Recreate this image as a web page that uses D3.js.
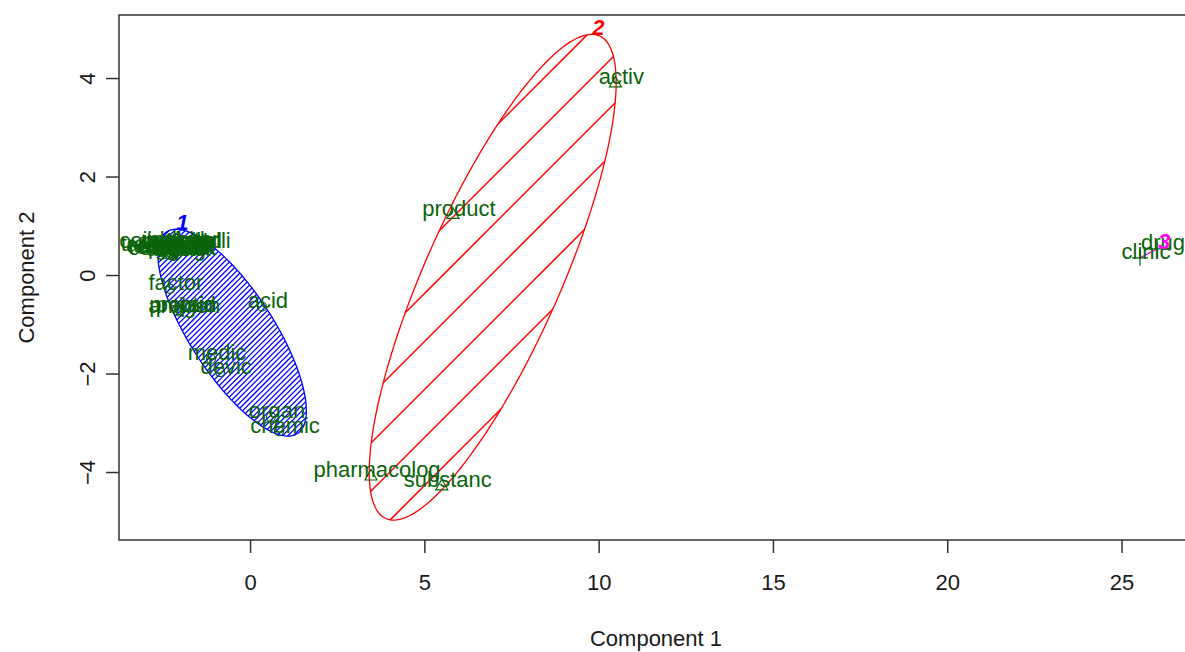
<!DOCTYPE html>
<html>
<head>
<meta charset="utf-8">
<script src="https://cdn.jsdelivr.net/npm/d3@7"></script>
<style>
  body { margin: 0; background: #fff; }
  svg text { font-family: "Liberation Sans", Arial, sans-serif; }
</style>
</head>
<body>
<div id="chart"></div>
<script>
// term positions on the two principal components, with cluster membership
const terms = [
  "treatment", "compound", "method", "composit", "effect", "includ", "patient", "diseas",
  "cell", "agent", "therapi", "receptor", "inhibitor", "dosag", "administr", "generalli",
  "form", "gene", "factor", "protein", "antigen", "peptid", "acid", "medic", "devic",
  "organ", "chemic",
  "activ", "product", "pharmacolog", "substanc",
  "clinic", "drug"
];
const comp1 = [
  -2.55, -2.45, -2.35, -2.40, -2.20, -2.30, -2.15, -2.25,
  -2.05, -2.10, -2.35, -2.50, -2.15, -2.30, -2.45, -1.92,
  -2.00, -2.20, -2.30, -2.10, -2.06, -2.02, 0.34, -1.12, -0.86,
  0.60, 0.83,
  10.48, 5.82, 3.47, 5.50,
  25.53, 26.02
];
const comp2 = [
  0.52, 0.58, 0.47, 0.43, 0.55, 0.60, 0.45, 0.50,
  0.57, 0.42, 0.55, 0.46, 0.59, 0.41, 0.50, 0.58,
  0.49, 0.44, -0.28, -0.72, -0.74, -0.71, -0.64, -1.70, -1.97,
  -2.88, -3.17,
  3.90, 1.23, -4.08, -4.28,
  0.35, 0.53
];
const cluster = [
  1, 1, 1, 1, 1, 1, 1, 1,
  1, 1, 1, 1, 1, 1, 1, 1,
  1, 1, 1, 1, 1, 1, 1, 1, 1,
  1, 1,
  2, 2, 2, 2,
  3, 3
];

// spanning ellipses of each cluster (centre, semi-axes, rotation in degrees)
const clusterIds = [1, 2, 3];
const ellipseCx = [-0.515, 6.96, 25.775];
const ellipseCy = [-1.17, -0.045, 0.44];
const ellipseA = [2.80, 5.80, 0.261];
const ellipseB = [1.05, 1.80, 0];
const ellipseAngle = [-44.5, 56.4, 20.2];

const xTicks = [0, 5, 10, 15, 20, 25];
const yTicks = [-4, -2, 0, 2, 4];
const xTitle = "Component 1";
const yTitle = "Component 2";

const width = 1185, height = 652;
const plot = { left: 119, right: 1193, top: 15, bottom: 540 };
const fontSize = 22;
const textGreen = "#0b640b";

const x = d3.scaleLinear().domain([-3.76, 27.05]).range([plot.left, plot.right]);
const y = d3.scaleLinear().domain([-5.38, 5.28]).range([plot.bottom, plot.top]);

const clusColor = d3.scaleOrdinal().domain(clusterIds).range(["#0000ff", "#ff0000", "#ff00ff"]);
const hatchStep = d3.scaleOrdinal().domain(clusterIds).range([5.4, 48, 0]);
const hatchPhase = d3.scaleOrdinal().domain(clusterIds).range([0, 46, 0]);
const hatchWidth = d3.scaleOrdinal().domain(clusterIds).range([1.3, 1.5, 0]);

const svg = d3.select("#chart").append("svg")
  .attr("width", width)
  .attr("height", height);

const defs = svg.append("defs");
defs.append("clipPath").attr("id", "plotClip")
  .append("rect")
  .attr("x", plot.left).attr("y", plot.top)
  .attr("width", plot.right - plot.left).attr("height", plot.bottom - plot.top);

const g = svg.append("g").attr("clip-path", "url(#plotClip)");

function ellipsePoints(i) {
  const th = ellipseAngle[i] * Math.PI / 180;
  return d3.range(0, 361, 2).map(deg => {
    const t = deg * Math.PI / 180;
    const ex = ellipseCx[i] + ellipseA[i] * Math.cos(t) * Math.cos(th) - ellipseB[i] * Math.sin(t) * Math.sin(th);
    const ey = ellipseCy[i] + ellipseA[i] * Math.cos(t) * Math.sin(th) + ellipseB[i] * Math.sin(t) * Math.cos(th);
    return [x(ex), y(ey)];
  });
}

// ellipses with 45 degree shading
clusterIds.forEach((id, i) => {
  const pts = ellipsePoints(i);
  const col = clusColor(id);
  const step = hatchStep(id);
  if (step > 0) {
    defs.append("clipPath").attr("id", "ell" + id)
      .append("polygon")
      .attr("points", pts.map(p => p.join(",")).join(" "));
    const sums = pts.map(p => p[0] + p[1]);
    const lo = d3.min(sums), hi = d3.max(sums);
    const phase = hatchPhase(id);
    const cs = d3.range(Math.ceil((lo - phase) / step) * step + phase, hi, step);
    g.append("g").attr("clip-path", "url(#ell" + id + ")")
      .selectAll("line")
      .data(cs)
      .enter()
      .append("line")
      .attr("x1", c => c + 20).attr("y1", -20)
      .attr("x2", c => c - 800).attr("y2", 800)
      .style("stroke", col)
      .style("stroke-width", hatchWidth(id) + "px");
  }
  g.append("path")
    .attr("d", d3.line()(pts) + "Z")
    .attr("fill", "none")
    .style("stroke", col)
    .style("stroke-width", "1.3px");
});

// point symbols: circle, triangle, plus
const pointData = terms.map((t, i) => ({ term: t, c1: comp1[i], c2: comp2[i], cl: cluster[i] }));

const symbolPath = cl => {
  if (cl === 1) return "M-4.5,0A4.5,4.5 0 1,0 4.5,0A4.5,4.5 0 1,0 -4.5,0Z";
  if (cl === 2) return "M0,-6.5L6,4L-6,4Z";
  return "M-8,0H8M0,-8V8";
};

g.selectAll(".pt")
  .data(pointData)
  .enter()
  .append("path")
  .attr("class", "pt")
  .attr("transform", d => `translate(${x(d.c1)},${y(d.c2)})`)
  .attr("d", d => symbolPath(d.cl))
  .attr("fill", "none")
  .attr("stroke", textGreen)
  .attr("stroke-width", 1.2);

g.selectAll(".lab")
  .data(pointData)
  .enter()
  .append("text")
  .attr("class", "lab")
  .attr("x", d => x(d.c1) + 6)
  .attr("y", d => y(d.c2) - 6)
  .attr("text-anchor", "middle")
  .attr("dominant-baseline", "central")
  .attr("font-size", fontSize + "px")
  .attr("fill", textGreen)
  .text(d => d.term);

// cluster numbers at the top of each ellipse
clusterIds.forEach((id, i) => {
  const pts = ellipsePoints(i);
  const top = pts.reduce((a, b) => (b[1] < a[1] ? b : a));
  g.append("text")
    .attr("x", top[0] + 7)
    .attr("y", top[1] - 7)
    .attr("text-anchor", "middle")
    .attr("dominant-baseline", "central")
    .attr("font-size", fontSize + "px")
    .attr("font-weight", "bold")
    .attr("font-style", "italic")
    .attr("fill", clusColor(id))
    .text(id);
});

// frame and axes
svg.append("rect")
  .attr("x", plot.left).attr("y", plot.top)
  .attr("width", plot.right - plot.left).attr("height", plot.bottom - plot.top)
  .attr("fill", "none")
  .attr("stroke", "#333")
  .attr("stroke-width", 1.5);

const xAxis = svg.append("g")
  .attr("transform", `translate(0,${plot.bottom})`)
  .call(d3.axisBottom(x).tickValues(xTicks).tickSize(13).tickPadding(21));
xAxis.select(".domain").remove();

const yAxis = svg.append("g")
  .attr("transform", `translate(${plot.left},0)`)
  .call(d3.axisLeft(y).tickValues(yTicks).tickSize(13));
yAxis.select(".domain").remove();
yAxis.selectAll("text")
  .attr("x", 0).attr("y", -32).attr("dy", null)
  .attr("transform", "rotate(-90)")
  .attr("text-anchor", "middle")
  .attr("dominant-baseline", "central");

svg.selectAll(".tick line").attr("stroke", "#333").attr("stroke-width", 1.5);
svg.selectAll(".tick text")
  .attr("fill", "#1a1a1a")
  .style("font-size", fontSize + "px")
  .style("font-family", '"Liberation Sans", Arial, sans-serif');

svg.append("text")
  .attr("x", (plot.left + plot.right) / 2)
  .attr("y", 638)
  .attr("text-anchor", "middle")
  .attr("dominant-baseline", "central")
  .attr("font-size", fontSize + "px")
  .attr("fill", "#1a1a1a")
  .text(xTitle);

svg.append("text")
  .attr("transform", `translate(26,${(plot.top + plot.bottom) / 2}) rotate(-90)`)
  .attr("text-anchor", "middle")
  .attr("dominant-baseline", "central")
  .attr("font-size", fontSize + "px")
  .attr("fill", "#1a1a1a")
  .text(yTitle);
</script>
</body>
</html>
